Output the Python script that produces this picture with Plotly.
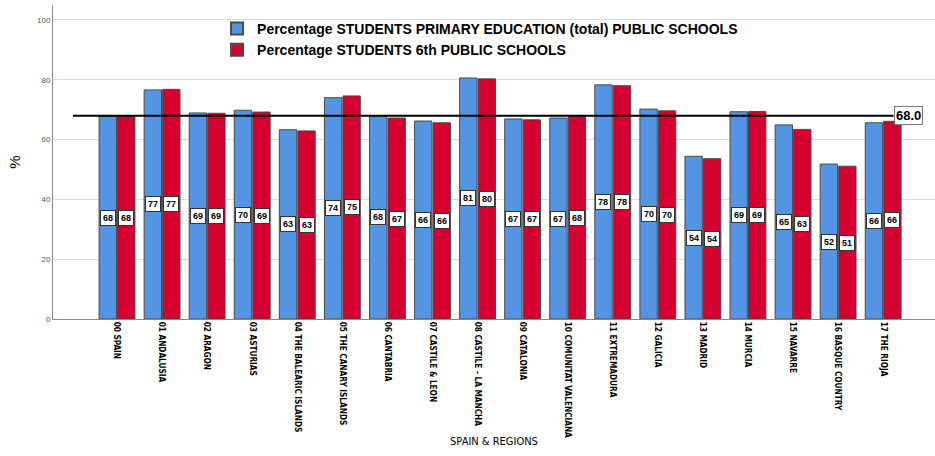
import plotly.graph_objects as go

# Regions (category axis labels)
regions = [
    "00 SPAIN", "01 ANDALUSIA", "02 ARAGON", "03 ASTURIAS",
    "04 THE BALEARIC ISLANDS", "05 THE CANARY ISLANDS", "06 CANTABRIA",
    "07 CASTILE & LEON", "08 CASTILE - LA MANCHA", "09 CATALONIA",
    "10 COMUNITAT VALENCIANA", "11 EXTREMADURA", "12 GALICIA", "13 MADRID",
    "14 MURCIA", "15 NAVARRE", "16 BASQUE COUNTRY", "17 THE RIOJA",
]

# Percentage of students in public schools
primary_total = [67.8, 76.6, 68.9, 69.8, 63.3, 74.0, 67.9, 66.2, 80.6,
                 66.9, 67.2, 78.3, 70.2, 54.4, 69.3, 64.9, 51.8, 65.6]
sixth_grade = [67.8, 76.8, 68.8, 69.2, 62.9, 74.6, 67.2, 65.6, 80.3,
               66.6, 67.6, 78.0, 69.6, 53.6, 69.4, 63.4, 51.1, 66.1]

reference_value = 68.0
y_ticks = [0, 20, 40, 60, 80, 100]

BLUE = "#5495E3"
RED = "#D4002F"
OUTLINE = "#4a4a4a"
SANS = "Liberation Sans, Arial, sans-serif"
NARROW = "DejaVu Sans Condensed, Arial Narrow, sans-serif"

fig = go.Figure()
fig.add_trace(go.Bar(
    x=regions, y=primary_total,
    name="Percentage STUDENTS PRIMARY EDUCATION (total) PUBLIC SCHOOLS",
    marker=dict(color=BLUE, line=dict(color=OUTLINE, width=1)),
))
fig.add_trace(go.Bar(
    x=regions, y=sixth_grade,
    name="Percentage STUDENTS 6th PUBLIC SCHOOLS",
    marker=dict(color=RED, line=dict(color=OUTLINE, width=1)),
))

# Boxed value labels at half the bar height
label_font = dict(family=SANS, size=9, color="black", weight="bold")
for series, shift in ((primary_total, -9.3), (sixth_grade, 9.3)):
    for reg, v in zip(regions, series):
        fig.add_annotation(
            x=reg, y=v / 2, xshift=shift, text=f"{v:.0f}", showarrow=False,
            font=label_font, bgcolor="white", bordercolor="#333333",
            borderwidth=1, borderpad=2,
        )

# Reference line with its value label
fig.add_shape(type="line", xref="paper", yref="y", x0=0.0227, x1=0.953,
              y0=reference_value, y1=reference_value,
              line=dict(color="black", width=2))
fig.add_annotation(
    xref="paper", yref="y", x=0.953, y=reference_value, xanchor="left",
    text=f"{reference_value:.1f}", showarrow=False,
    font=dict(family=SANS, size=13, color="black", weight="bold"),
    bgcolor="white", bordercolor="#777777", borderwidth=1, borderpad=1,
)

fig.update_layout(
    width=935, height=456,
    margin=dict(l=53, r=0, t=5, b=137),
    paper_bgcolor="white", plot_bgcolor="white",
    barmode="group", bargap=0.18, bargroupgap=0.06,
    showlegend=True,
    legend=dict(
        x=0.186, y=0.975, xanchor="left", yanchor="top",
        bgcolor="rgba(0,0,0,0)", tracegroupgap=0,
        font=dict(family=SANS, size=14, color="black", weight="bold"),
        itemsizing="constant",
    ),
    font=dict(family=SANS),
)

fig.update_xaxes(
    type="category", range=[-1.42, 18.15], automargin=False,
    tickangle=90, ticks="",
    tickfont=dict(family=NARROW, size=8.2, color="black", weight="bold"),
    showline=True, linecolor="#888888", linewidth=1,
    showgrid=False,
    title=dict(text="SPAIN & REGIONS", standoff=0,
               font=dict(family=NARROW, size=11, color="black")),
)
fig.update_yaxes(
    range=[0, 105], tickvals=y_ticks, ticks="", automargin=False,
    tickfont=dict(family=SANS, size=8, color="#555555"),
    showline=True, linecolor="#888888", linewidth=1,
    showgrid=True, gridcolor="#dddddd", gridwidth=1,
    zeroline=False,
    title=dict(text="%", standoff=12,
               font=dict(family=SANS, size=15, color="black")),
)

fig.write_html("out.html")
